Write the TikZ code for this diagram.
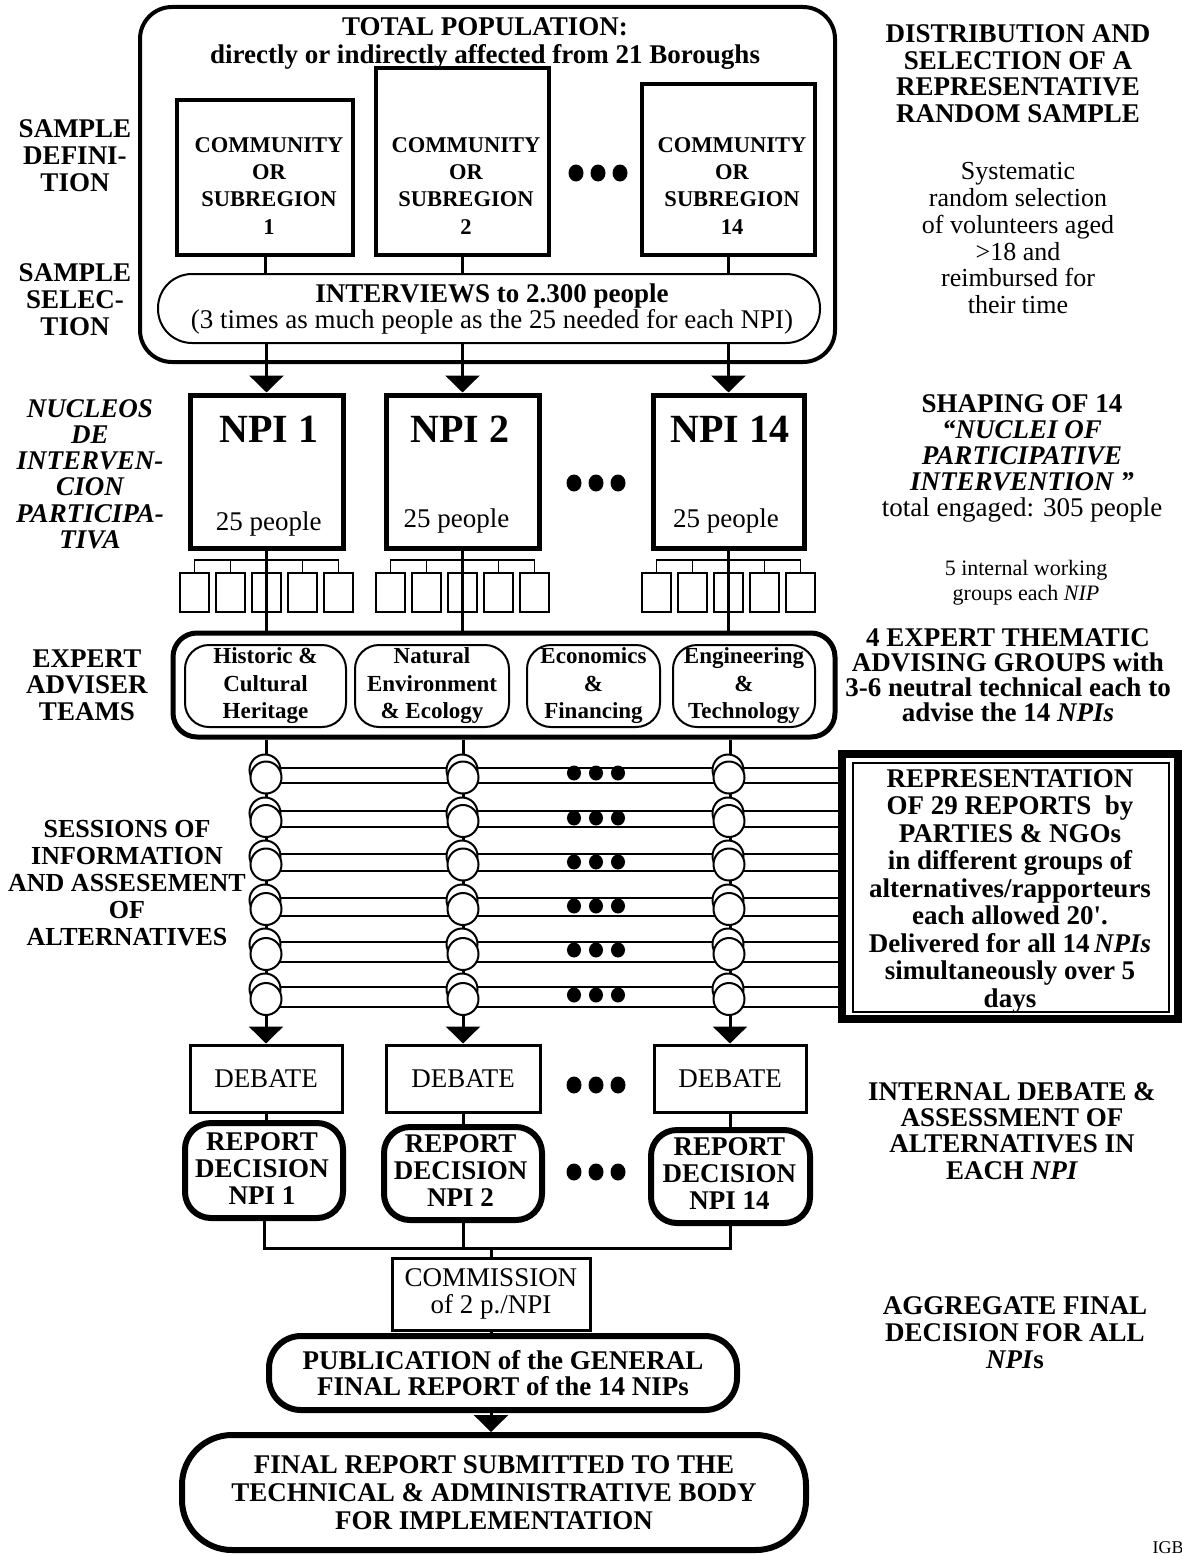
\documentclass[tikz,border=0pt]{standalone}
\usepackage{fontspec}
\setmainfont{Liberation Serif}
\usetikzlibrary{arrows.meta}
\newcommand\myfs[2]{\fontsize{#1}{#2}\selectfont}
\tikzset{
  lbl/.style={inner sep=0pt, align=center, anchor=north, font=\myfs{27}{27}\bfseries},
  conn/.style={line width=3pt},
  arr/.style={line width=3pt, -{Triangle[width=34pt,length=17pt]}},
  combox/.style={draw, line width=4pt, inner sep=0pt},
  npibox/.style={draw, line width=5pt, inner sep=0pt, minimum height=153pt},
  sbox/.style={draw, line width=2pt, inner sep=0pt, minimum width=29pt, minimum height=39pt},
  ebox/.style={draw, line width=2pt, rounded corners=24pt, inner sep=0pt, minimum height=82pt, align=center, font=\myfs{23}{27.5}\bfseries},
  dbox/.style={draw, line width=3pt, inner sep=0pt, minimum height=67pt, font=\myfs{27}{27}},
  rbox/.style={draw, line width=6pt, rounded corners=26pt, inner sep=0pt},
  thin/.style={line width=1.2pt},
  hline/.style={line width=2pt},
  ring/.style={line width=2pt, fill=white},
}
\newcommand\threedots[2]{%
  \fill (#1-22,#2) ellipse [x radius=7.5pt, y radius=8.5pt];
  \fill (#1,#2) ellipse [x radius=7.5pt, y radius=8.5pt];
  \fill (#1+22,#2) ellipse [x radius=7.5pt, y radius=8.5pt];}
\begin{document}
\begin{tikzpicture}[x=1pt,y=-1pt]
\useasboundingbox (0,0) rectangle (1182,1555);
\fill[white] (0,0) rectangle (1182,1555);

% ---------------- population block
\node[draw, line width=4pt, rounded corners=32pt, minimum width=695pt, minimum height=355pt, inner sep=0pt] (pop) at (487.5,184.5) {};
\node[lbl, font=\myfs{27}{28}\bfseries] (poptitle) at (485,17) {TOTAL POPULATION:\\directly or indirectly affected from 21 Boroughs};

\node[combox, minimum width=176pt, minimum height=155pt] (com1) at (265,177.5) {};
\node[combox, minimum width=173pt, minimum height=187pt] (com2) at (462,161.5) {};
\node[combox, minimum width=173pt, minimum height=171pt] (com3) at (728,169.5) {};
\node[lbl, font=\myfs{22.5}{27.3}\bfseries] (com1t) at (269,137.3) {COMMUNITY\\OR\\SUBREGION\\1};
\node[lbl, font=\myfs{22.5}{27.3}\bfseries] (com2t) at (466,137.3) {COMMUNITY\\OR\\SUBREGION\\2};
\node[lbl, font=\myfs{22.5}{27.3}\bfseries] (com3t) at (732,137.3) {COMMUNITY\\OR\\SUBREGION\\14};
\threedots{598}{173}

\node[draw, line width=2pt, rounded corners=34pt, minimum width=662pt, minimum height=69pt, inner sep=0pt] (int) at (489,308.5) {};
\node[inner sep=0pt, align=center, anchor=north, font=\myfs{27}{26}] (intt) at (492,283.6) {\textbf{INTERVIEWS to 2.300 people}\\(3 times as much people as the 25 needed for each NPI)};

\draw[conn] (com1.south) -- (com1.south |- int.north);
\draw[conn] (com2.south) -- (com2.south |- int.north);
\draw[conn] (com3.south) -- (com3.south |- int.north);

% ---------------- NPI boxes
\node[npibox, minimum width=153pt] (npi1) at (266.5,471.5) {};
\node[npibox, minimum width=153pt] (npi2) at (462.5,471.5) {};
\node[npibox, minimum width=151pt] (npi3) at (728.5,471.5) {};
\node[inner sep=0pt, anchor=north, font=\myfs{40}{40}\bfseries] (npi1a) at (268.8,416) {NPI 1};
\node[inner sep=0pt, anchor=north, font=\myfs{40}{40}\bfseries] (npi2a) at (459.6,416) {NPI 2};
\node[inner sep=0pt, anchor=north, font=\myfs{40}{40}\bfseries] (npi3a) at (730,416) {NPI 14};
\node[inner sep=0pt, anchor=north, font=\myfs{27}{27}] (npi1b) at (268.7,511.5) {25 people};
\node[inner sep=0pt, anchor=north, font=\myfs{27}{27}] (npi2b) at (456.5,508.5) {25 people};
\node[inner sep=0pt, anchor=north, font=\myfs{27}{27}] (npi3b) at (726,508.5) {25 people};
\threedots{596}{483}

\draw[arr] (npi1.north |- int.south) -- (npi1.north);
\draw[arr] (npi2.north |- int.south) -- (npi2.north);
\draw[arr] (npi3.north |- int.south) -- (npi3.north);

% ---------------- working groups
\foreach \c/\n in {266.5/1,462.5/2,728.5/3}{
  \foreach \o/\m in {-72/1,-36/2,0/3,36/4,72/5}{
    \node[sbox] (sb\n\m) at (\c+\o,592.5) {};
  }
  \draw[thin] (sb\n1.north) -- ++(0,-12) -| (sb\n5.north);
  \draw[thin] (sb\n2.north) -- ++(0,-12);
  \draw[thin] (sb\n4.north) -- ++(0,-12);
}

% ---------------- expert teams
\node[draw, line width=5pt, rounded corners=24pt, minimum width=662pt, minimum height=104pt, inner sep=0pt] (exp) at (504,685) {};
\node[ebox, minimum width=161pt] (e1) at (265.5,686) {Historic \&\\Cultural\\Heritage};
\node[ebox, minimum width=154pt] (e2) at (432,686) {Natural\\Environment\\\& Ecology};
\node[ebox, minimum width=133pt] (e3) at (593.5,686) {Economics\\\&\\Financing};
\node[ebox, minimum width=142pt] (e4) at (744,686) {Engineering\\\&\\Technology};

\draw[conn] (npi1.south) -- (npi1.south |- exp.north);
\draw[conn] (npi2.south) -- (npi2.south |- exp.north);
\draw[conn] (npi3.south) -- (npi3.south |- exp.north);

% ---------------- representation box
\node[draw, line width=8pt, minimum width=336pt, minimum height=265pt, inner sep=0pt] (rep) at (1010,886.5) {};
\node[draw, line width=2pt, minimum width=316pt, minimum height=249pt, inner sep=0pt] (repin) at (1011,887.5) {};
\node[lbl, font=\myfs{27}{27.5}\bfseries] (rept) at (1010,769) {REPRESENTATION\\OF 29 REPORTS~~by\\PARTIES \& NGOs\\in different groups of\\alternatives/rapporteurs\\each allowed 20\textquotesingle.\\Delivered for all 14\,\textit{NPIs}\\simultaneously over 5\\days};

% ---------------- debate boxes
\node[dbox, minimum width=152pt] (d1) at (266,1078.5) {DEBATE};
\node[dbox, minimum width=154pt] (d2) at (463,1078.5) {DEBATE};
\node[dbox, minimum width=152pt] (d3) at (730,1078.5) {DEBATE};
\threedots{596}{1085}

% ---------------- sessions
\foreach \u/\l in {768/783, 811/827, 854/871, 898/916, 942/962, 987/1007}{
  \coordinate (ru) at (266,\u);
  \coordinate (rl) at (266,\l);
  \draw[hline] (ru) -- (ru -| rep.west);
  \draw[hline] (rl) -- (rl -| rep.west);
}
\draw[arr] (d1.north |- exp.south) -- (d1.north);
\draw[arr] (d2.north |- exp.south) -- (d2.north);
\draw[arr] (d3.north |- exp.south) -- (d3.north);
\foreach \x in {266,463,729}{
  \foreach \u/\l in {768/783, 811/827, 854/871, 898/916, 942/962, 987/1007}{
    \draw[ring] (\x-1,\u+2) ellipse [x radius=15.5pt, y radius=15.5pt];
    \draw[ring] (\x,{(\u+\l)/2+2}) ellipse [x radius=15.5pt, y radius=16pt];
  }
}
\foreach \y in {773,818,862,906,950,995}{
  \fill (574,\y) ellipse [x radius=7pt, y radius=7.5pt];
  \fill (596,\y) ellipse [x radius=7pt, y radius=7.5pt];
  \fill (618,\y) ellipse [x radius=7pt, y radius=7.5pt];
}

% ---------------- report decisions
\node[rbox, minimum width=158pt, minimum height=95pt] (r1) at (264,1170.5) {};
\node[rbox, minimum width=158pt, minimum height=93pt] (r2) at (463,1173.5) {};
\node[rbox, minimum width=159pt, minimum height=93pt] (r3) at (730.5,1176.5) {};
\node[lbl] (r1t) at (262,1132.3) {REPORT\\DECISION\\NPI 1};
\node[lbl] (r2t) at (460.6,1134.3) {REPORT\\DECISION\\NPI 2};
\node[lbl] (r3t) at (729.4,1137.3) {REPORT\\DECISION\\NPI 14};
\threedots{596}{1172}

\draw[conn] (d1.south) -- (d1.south |- r1.north);
\draw[conn] (d2.south) -- (d2.south |- r2.north);
\draw[conn] (d3.south) -- (d3.south |- r3.north);

% ---------------- commission and final
\node[draw, line width=3pt, minimum width=198pt, minimum height=72pt, inner sep=0pt, align=center, font=\myfs{27}{27}] (cm) at (491,1294) {COMMISSION\\of 2 p./NPI};
\coordinate (jn) at (491,1248);
\draw[conn] (r1.south) -- (r1.south |- jn) -- (r3.south |- jn) -- (r3.south);
\draw[conn] (r2.south) -- (r2.south |- jn);
\draw[conn] (jn) -- (cm.north);

\node[draw, line width=6pt, rounded corners=32pt, minimum width=468pt, minimum height=74pt, inner sep=0pt, align=center, font=\myfs{27}{26}\bfseries] (pub) at (503,1373) {PUBLICATION of the GENERAL\\FINAL REPORT of the 14 NIPs};
\draw[conn] (cm.south) -- (cm.south |- pub.north);

\node[draw, line width=6pt, rounded corners=50pt, minimum width=624pt, minimum height=115pt, inner sep=0pt, align=center, font=\myfs{27}{28}\bfseries] (fin) at (494,1492.5) {FINAL REPORT SUBMITTED TO THE\\TECHNICAL \& ADMINISTRATIVE BODY\\FOR IMPLEMENTATION};
\draw[arr] (cm.south |- pub.south) -- (cm.south |- fin.north);

% ---------------- left labels
\node[lbl] (l1) at (75,119.3) {SAMPLE\\DEFINI-\\TION};
\node[lbl] (l2) at (75,263.3) {SAMPLE\\SELEC-\\TION};
\node[lbl, font=\myfs{27}{26.2}\bfseries\itshape] (l3) at (90,399.3) {NUCLEOS\\DE\\INTERVEN-\\CION\\PARTICIPA-\\TIVA};
\node[lbl, font=\myfs{27}{26.5}\bfseries] (l4) at (87,649.3) {EXPERT\\ADVISER\\TEAMS};
\node[lbl, font=\myfs{26}{27}\bfseries] (l5) at (127,820) {SESSIONS OF\\INFORMATION\\AND ASSESEMENT\\OF\\ALTERNATIVES};

% ---------------- right labels
\node[lbl, font=\myfs{27}{26.7}\bfseries] (ra) at (1018,24.3) {DISTRIBUTION AND\\SELECTION OF A\\REPRESENTATIVE\\RANDOM SAMPLE};
\node[lbl, font=\myfs{26}{26.8}] (rb) at (1018,162.2) {Systematic\\random selection\\of volunteers aged\\>18 and\\reimbursed for\\their time};
\node[lbl, font=\myfs{27}{26.2}\bfseries] (rc) at (1022,394) {SHAPING OF 14\\\textit{“NUCLEI OF}\\\textit{PARTICIPATIVE}\\\textit{INTERVENTION ”}\\\textnormal{total engaged: 305 people}};
\node[lbl, font=\myfs{22}{25}] (rd) at (1026,560) {5 internal working\\groups each \textit{NIP}};
\node[lbl, font=\myfs{27}{25}\bfseries] (re) at (1008,628.7) {4 EXPERT THEMATIC\\ADVISING GROUPS with\\3-6 neutral technical each to\\advise the 14 \textit{NPIs}};
\node[lbl, font=\myfs{27}{26.3}\bfseries] (rf) at (1012,1082) {INTERNAL DEBATE \&\\ASSESSMENT OF\\ALTERNATIVES IN\\EACH \textit{NPI}};
\node[lbl, font=\myfs{27}{27}\bfseries] (rg) at (1015,1296) {AGGREGATE FINAL\\DECISION FOR ALL\\\textit{NPI}s};
\node[inner sep=0pt, anchor=north, font=\myfs{18}{18}] (igb) at (1168,1541) {IGB};
\end{tikzpicture}
\end{document}
